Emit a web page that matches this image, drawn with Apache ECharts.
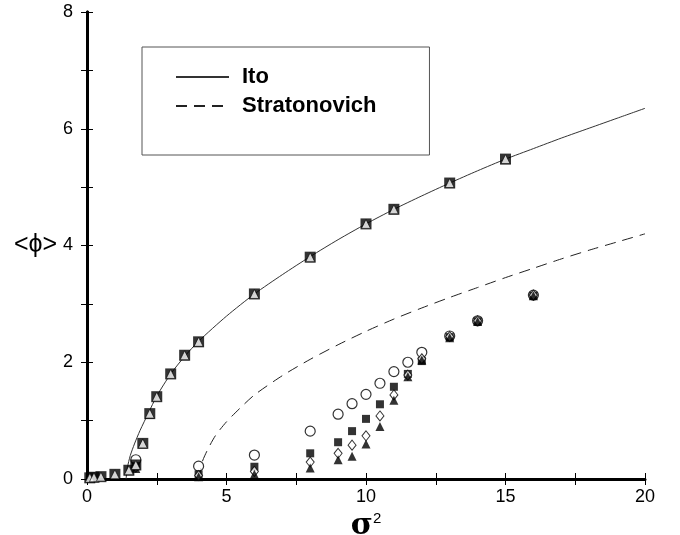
<!DOCTYPE html>
<html>
<head>
<meta charset="utf-8">
<script src="https://cdn.jsdelivr.net/npm/echarts@6/dist/echarts.min.js"></script>
<style>html,body{margin:0;padding:0;background:#fff}#c{width:680px;height:535px}</style>
</head>
<body>
<div id="c"></div>
<script>
// Theory curves
var itoCurveX = [1.4, 1.45, 1.55, 1.7, 1.9, 2.2, 2.5, 3, 3.5, 4, 5, 6, 7, 8, 9, 10, 11, 12, 13, 14, 15, 16, 17, 18, 19, 20];
var itoCurveY = [0, 0.2, 0.4, 0.6, 0.83, 1.13, 1.42, 1.80, 2.10, 2.36, 2.79, 3.17, 3.50, 3.81, 4.10, 4.37, 4.62, 4.85, 5.07, 5.28, 5.48, 5.66, 5.84, 6.01, 6.18, 6.35];
var stratCurveX = [4.05, 4.1, 4.3, 4.6, 5, 5.5, 6, 7, 8, 9, 10, 11, 12, 13, 14, 15, 16, 17, 18, 19, 20];
var stratCurveY = [0, 0.25, 0.48, 0.74, 0.98, 1.22, 1.44, 1.77, 2.05, 2.30, 2.53, 2.74, 2.93, 3.11, 3.28, 3.45, 3.61, 3.77, 3.92, 4.06, 4.20];

// Data on the Ito curve (filled square + open triangle)
var itoDataX = [0.1, 0.25, 0.5, 1, 1.5, 1.75, 2, 2.25, 2.5, 3, 3.5, 4, 6, 8, 10, 11, 13, 15];
var itoDataY = [0.02, 0.03, 0.04, 0.08, 0.15, 0.24, 0.61, 1.12, 1.41, 1.80, 2.12, 2.35, 3.17, 3.80, 4.37, 4.62, 5.07, 5.48];

// Lower data group
var lowX = [1.75, 4, 6, 8, 9, 9.5, 10, 10.5, 11, 11.5, 12, 13, 14, 16];
var circleY = [0.33, 0.22, 0.41, 0.82, 1.11, 1.29, 1.45, 1.64, 1.84, 2.00, 2.17, 2.45, 2.71, 3.15];
var squareY = [0.22, 0.08, 0.21, 0.44, 0.63, 0.82, 1.03, 1.28, 1.58, 1.80, 2.02, 2.43, 2.70, 3.14];
var diamondY = [0.20, 0.06, 0.13, 0.29, 0.44, 0.58, 0.74, 1.08, 1.44, 1.78, 2.06, 2.44, 2.71, 3.15];
var triangleY = [0.18, 0.04, 0.08, 0.19, 0.33, 0.39, 0.60, 0.90, 1.35, 1.75, 2.04, 2.42, 2.70, 3.14];

function pairs(xs, ys) { return xs.map(function (x, i) { return [x, ys[i]]; }); }

var FONT = 'Liberation Sans, Arial, Helvetica, sans-serif';
var chart = echarts.init(document.getElementById('c'), null, { renderer: 'canvas' });

var baseX = {
  type: 'value', min: 0, max: 20, interval: 5,
  splitLine: { show: false },
  axisTick: { show: true, inside: true, length: 6, lineStyle: { color: '#000', width: 1 } },
  minorTick: { show: true, splitNumber: 2, length: 6, lineStyle: { color: '#000', width: 1 } },
  minorSplitLine: { show: false }
};
var baseY = {
  type: 'value', min: 0, max: 8, interval: 2,
  splitLine: { show: false },
  axisTick: { show: true, inside: true, length: 6, lineStyle: { color: '#000', width: 1 } },
  minorTick: { show: true, splitNumber: 2, length: 6, lineStyle: { color: '#000', width: 1 } },
  minorSplitLine: { show: false }
};

chart.setOption({
  animation: false,
  backgroundColor: '#fff',
  grid: { left: 87, right: 35, top: 12, bottom: 56, containLabel: false, outerBoundsMode: 'none' },
  legend: {
    orient: 'vertical',
    left: 142, top: 47,
    padding: [19, 53, 38, 33],
    itemWidth: 53, itemHeight: 20, itemGap: 7,
    borderColor: '#555', borderWidth: 1,
    data: ['Ito', 'Stratonovich'],
    itemStyle: { color: 'rgba(0,0,0,0)', borderWidth: 0, opacity: 0 },
    textStyle: { fontFamily: FONT, fontWeight: 'bold', fontSize: 22, color: '#000', padding: [0, 0, 0, 8] }
  },
  xAxis: [
    Object.assign({}, baseX, {
      position: 'bottom',
      axisLine: { lineStyle: { color: '#000', width: 3 } },
      axisLabel: { fontFamily: FONT, fontSize: 18, color: '#000', margin: 9 },
      name: '{a|σ}{b|2}',
      nameLocation: 'middle', nameGap: 24,
      nameTextStyle: {
        rich: {
          a: { fontFamily: 'DejaVu Serif, serif', fontSize: 30, fontWeight: 'bold', color: '#000', lineHeight: 30 },
          b: { fontFamily: FONT, fontSize: 15, color: '#000', verticalAlign: 'top', lineHeight: 15 }
        }
      }
    }),
    Object.assign({}, baseX, {
      position: 'top',
      axisLine: { lineStyle: { color: '#000', width: 2 } },
      axisLabel: { show: false }
    })
  ],
  yAxis: [
    Object.assign({}, baseY, {
      position: 'left',
      axisLine: { lineStyle: { color: '#000', width: 3 } },
      axisLabel: { fontFamily: FONT, fontSize: 18, color: '#000', margin: 14 },
      name: '<ϕ>',
      nameLocation: 'middle', nameRotate: 0, nameGap: 29,
      nameTextStyle: { fontFamily: FONT, fontSize: 25, color: '#000', padding: [0, 0, 8, 0] }
    }),
    Object.assign({}, baseY, {
      position: 'right',
      axisLine: { lineStyle: { color: '#000', width: 3 } },
      axisLabel: { show: false }
    })
  ],
  series: [
    {
      name: 'Ito', type: 'line', data: pairs(itoCurveX, itoCurveY),
      symbol: 'none', smooth: 0.25,
      lineStyle: { color: '#333', width: 1 }, itemStyle: { color: '#333' }, z: 2
    },
    {
      name: 'Stratonovich', type: 'line', data: pairs(stratCurveX, stratCurveY),
      symbol: 'none', smooth: 0.25,
      lineStyle: { color: '#222', width: 1, type: [11, 7] }, itemStyle: { color: '#222' }, z: 2
    },
    {
      name: 'low circle', type: 'scatter', data: pairs(lowX, circleY),
      symbol: 'circle', symbolSize: 10,
      itemStyle: { color: '#fff', borderColor: '#000', borderWidth: 1.2 }, z: 3
    },
    {
      name: 'low square', type: 'scatter', data: pairs(lowX, squareY),
      symbol: 'rect', symbolSize: 8,
      itemStyle: { color: '#000' }, z: 4
    },
    {
      name: 'low diamond', type: 'scatter', data: pairs(lowX, diamondY),
      symbol: 'diamond', symbolSize: [8, 10],
      itemStyle: { color: '#fff', borderColor: '#000', borderWidth: 1 }, z: 5
    },
    {
      name: 'low triangle', type: 'scatter', data: pairs(lowX, triangleY),
      symbol: 'triangle', symbolSize: 9,
      itemStyle: { color: '#000' }, z: 6
    },
    {
      name: 'ito square', type: 'scatter', data: pairs(itoDataX, itoDataY),
      symbol: 'rect', symbolSize: 11,
      itemStyle: { color: '#000' }, z: 7
    },
    {
      name: 'ito triangle', type: 'scatter', data: pairs(itoDataX, itoDataY),
      symbol: 'triangle', symbolSize: 9,
      itemStyle: { color: '#fff', borderColor: '#000', borderWidth: 0.8 }, z: 8
    }
  ]
});
</script>
</body>
</html>
